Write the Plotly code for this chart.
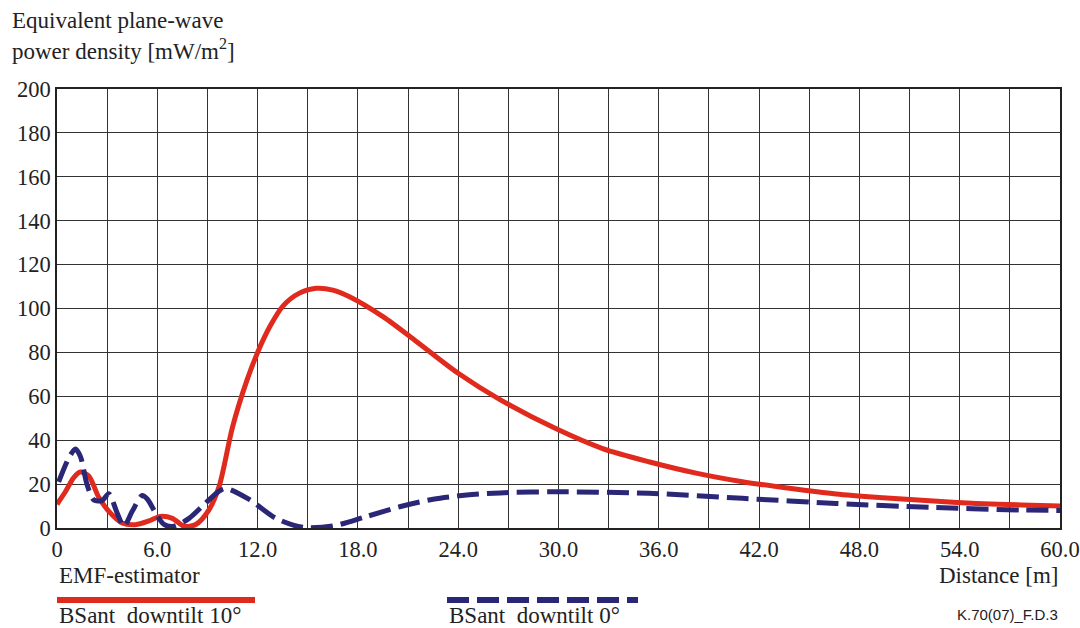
import plotly.graph_objects as go

# Data: BSant downtilt 10 deg (red, solid)
dist_10 = [0, 0.5, 1.0, 1.4, 1.9, 2.5, 3.1, 3.9, 4.7, 5.5, 6.2, 6.9, 7.6, 8.3, 9.1, 9.7,
           10.5, 11.35, 12.0, 12.75, 13.5, 14.5, 15.5, 16.5, 17.5, 19.5, 21.5, 24.0, 26.5,
           29.8, 32.6, 35.4, 38.3, 41.0, 43.8, 46.6, 49.4, 52.2, 55.0, 57.7, 60.0]
pd_10 = [10.8, 16.5, 23.0, 25.5, 23.7, 14.0, 7.6, 2.3, 1.5, 3.2, 5.3, 4.4, 0.8, 1.6, 8.4, 19.0,
         46.0, 67.0, 80.0, 92.0, 101.0, 107.0, 109.2, 108.4, 105.4, 96.3, 85.0, 70.5, 58.5,
         45.4, 36.3, 30.2, 24.9, 21.1, 18.1, 15.5, 13.8, 12.4, 11.2, 10.5, 10.0]

# Data: BSant downtilt 0 deg (blue, dashed)
dist_0 = [0.1, 0.7, 1.1, 1.4, 1.8, 2.2, 2.7, 3.1, 3.6, 4.0, 4.5, 5.1, 5.4, 5.9, 6.4, 7.0,
          7.9, 8.7, 9.7, 10.1, 11.5, 13.1, 14.7, 16.5, 18.5, 20.5, 22.5, 24.5, 26.5, 29.8,
          35.4, 41.0, 46.6, 52.2, 57.7, 60.0]
pd_0 = [21.0, 31.8, 36.0, 32.6, 19.7, 12.8, 12.5, 15.6, 6.8, 0.8, 7.6, 14.8, 13.2, 6.8, 1.6, 0.8,
        4.4, 10.0, 16.8, 18.0, 13.0, 4.4, 0.3, 0.9, 5.2, 9.7, 13.1, 15.0, 16.0, 16.5,
        15.8, 13.5, 11.2, 9.4, 8.2, 8.0]

x_ticks = [6 * i for i in range(11)]
x_labels = ["0" if v == 0 else f"{v:.1f}" for v in x_ticks]
y_ticks = list(range(0, 201, 20))

RED = "#E12A1E"
BLUE = "#2A2777"
FONT = '"Liberation Serif", "Times New Roman", Times, serif'
TXT = "#222222"
FS = 23
TFS = 22.5

fig = go.Figure()
fig.add_trace(go.Scatter(x=dist_10, y=pd_10, mode="lines",
                         line=dict(color=RED, width=5, shape="spline", smoothing=0.8),
                         name="BSant downtilt 10°", showlegend=False))
fig.add_trace(go.Scatter(x=dist_0, y=pd_0, mode="lines",
                         line=dict(color=BLUE, width=5, shape="spline", smoothing=0.8, dash="22px,8px"),
                         name="BSant downtilt 0°", showlegend=False))

fig.update_layout(
    width=1080, height=628,
    margin=dict(l=57, r=20, t=89, b=100),
    paper_bgcolor="white", plot_bgcolor="white",
    font=dict(family=FONT, size=FS, color=TXT),
    xaxis=dict(range=[0, 60], tickvals=x_ticks, ticktext=x_labels, showgrid=True, automargin=False,
               ticklabeloverflow="allow",
               gridcolor="#333333", gridwidth=1, zeroline=False, showline=True, linecolor="#222222",
               linewidth=1.5, mirror=True, ticks="", tickfont=dict(size=TFS, family=FONT, color=TXT),
               minor=dict(dtick=3, tick0=0, showgrid=True, gridcolor="#333333", gridwidth=1, ticks="")),
    yaxis=dict(range=[0, 200], tickvals=y_ticks, showgrid=True, gridcolor="#333333", gridwidth=1,
               automargin=False, ticklabeloverflow="allow", zeroline=False, showline=True,
               linecolor="#222222", linewidth=1.5,
               mirror=True, ticks="", tickfont=dict(size=TFS, family=FONT, color=TXT)),
)

PW, PH, L, B = 1003, 439, 57, 528


def px(xp):
    return (xp - L) / PW


def py(yp):
    return (B - yp) / PH


annotations = [
    ("Equivalent plane-wave", 10, 20),
    ("power density [mW/m<sup>2</sup>]", 10, 50),
    ("EMF-estimator", 57, 575),
    ("BSant  downtilt 10°", 57, 615),
    ("BSant  downtilt 0°", 447, 615),
]
for text, xp, yp in annotations:
    fig.add_annotation(text=text, xref="paper", yref="paper", x=px(xp), y=py(yp),
                       xanchor="left", yanchor="middle", showarrow=False,
                       font=dict(family=FONT, size=FS, color=TXT))
fig.add_annotation(text="Distance [m]", xref="paper", yref="paper", x=1.0, y=py(575),
                   xanchor="right", yanchor="middle", showarrow=False,
                   font=dict(family=FONT, size=FS, color=TXT))
fig.add_annotation(text="K.70(07)_F.D.3", xref="paper", yref="paper", x=1.0, y=py(614),
                   xanchor="right", yanchor="middle", showarrow=False,
                   font=dict(family='"Liberation Sans", Arial, sans-serif', size=15, color=TXT))

# legend samples
fig.add_shape(type="line", xref="paper", yref="paper", x0=0, x1=px(255),
              y0=py(600), y1=py(600), line=dict(color=RED, width=6))
fig.add_shape(type="line", xref="paper", yref="paper", x0=px(447), x1=px(638),
              y0=py(600), y1=py(600), line=dict(color=BLUE, width=6, dash="22px,8px"))

fig.write_html("out.html")
